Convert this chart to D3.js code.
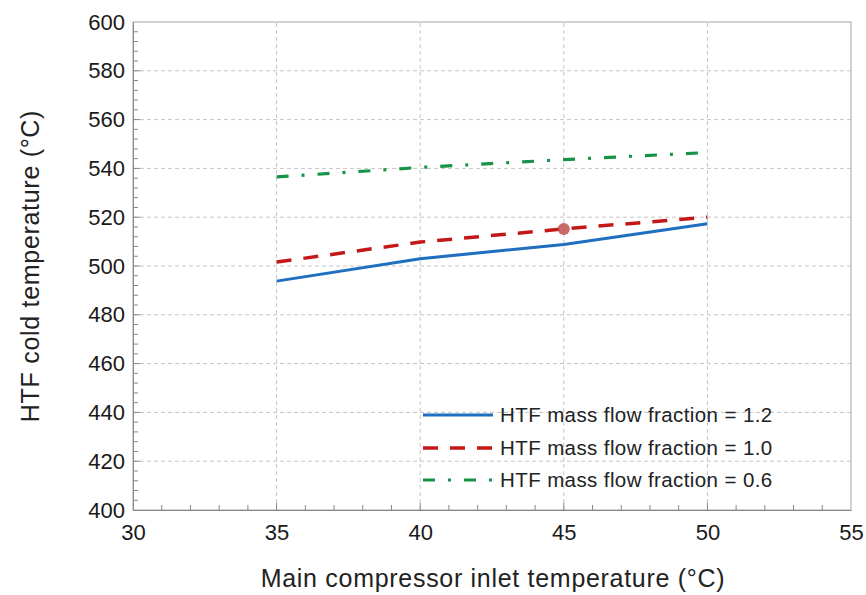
<!DOCTYPE html>
<html><head><meta charset="utf-8">
<script src="https://cdn.jsdelivr.net/npm/d3@7"></script>
<style>body{margin:0;background:#fff}svg{display:block}text{font-family:"Liberation Sans",Arial,sans-serif;fill:#222}</style>
</head><body>
<script>
const xValues = [35, 40, 45, 50];
const flow12 = [493.8, 503.0, 508.8, 517.3];
const flow10 = [501.6, 509.8, 515.2, 520.0];
const flow06 = [536.5, 540.4, 543.6, 546.5];
const seriesNames = ["HTF mass flow fraction = 1.2", "HTF mass flow fraction = 1.0", "HTF mass flow fraction = 0.6"];
const designPoint = [45, 515.2];
const xTicks = [30, 35, 40, 45, 50, 55];
const yTicks = [400, 420, 440, 460, 480, 500, 520, 540, 560, 580, 600];
const xTitle = "Main compressor inlet temperature (°C)";
const yTitle = "HTF cold temperature (°C)";

const W = 866, H = 595;
const m = {l:133, r:W-851, t:22, b:H-510};
const svg = d3.select("body").append("svg").attr("width", W).attr("height", H);
const x = d3.scaleLinear().domain([30,55]).range([m.l, W-m.r]);
const y = d3.scaleLinear().domain([400,600]).range([H-m.b, m.t]);

// grid
const g = svg.append("g");
g.selectAll(".gx").data(xTicks.slice(1,-1)).join("line")
  .attr("x1", d=>x(d)).attr("x2", d=>x(d)).attr("y1", y(400)).attr("y2", y(600))
  .attr("stroke", "#c4c4c4").attr("stroke-width",1).attr("stroke-dasharray","4,3");
g.selectAll(".gy").data(yTicks.slice(1,-1)).join("line")
  .attr("x1", x(30)).attr("x2", x(55)).attr("y1", d=>y(d)).attr("y2", d=>y(d))
  .attr("stroke", "#c4c4c4").attr("stroke-width",1).attr("stroke-dasharray","4,3");

// frame
svg.append("rect").attr("x", x(30)).attr("y", y(600)).attr("width", x(55)-x(30)).attr("height", y(400)-y(600))
  .attr("fill","none").attr("stroke","#b5b5b5").attr("stroke-width",1.2);

// minor ticks
const xMinor = d3.range(31, 55, 1);
svg.selectAll(".mx").data(xMinor).join("line")
  .attr("x1", d=>x(d)).attr("x2", d=>x(d)).attr("y1", y(400)).attr("y2", d=> y(400) - (d%5===0?7:5))
  .attr("stroke","#888").attr("stroke-width",1);
const yMinor = d3.range(404, 600, 4);
svg.selectAll(".my").data(yMinor).join("line")
  .attr("y1", d=>y(d)).attr("y2", d=>y(d)).attr("x1", x(30)).attr("x2", d=> x(30) + (d%20===0?7:5))
  .attr("stroke","#888").attr("stroke-width",1);

// axes
const xAxis = d3.axisBottom(x).tickValues(xTicks).tickSize(0).tickPadding(14);
const gx = svg.append("g").attr("transform", `translate(0,${y(400)})`).call(xAxis);
gx.select(".domain").attr("stroke","#888");
gx.selectAll("text").attr("font-size", 22).style("fill","#1a1a1a");
const yAxis = d3.axisLeft(y).tickValues(yTicks).tickSize(0).tickPadding(8);
const gy = svg.append("g").attr("transform", `translate(${x(30)},0)`).call(yAxis);
gy.select(".domain").attr("stroke","#888");
gy.selectAll("text").attr("font-size", 22).style("fill","#1a1a1a");

// titles
svg.append("text").attr("x", (x(30)+x(55))/2 + 1).attr("y", 587).attr("text-anchor","middle")
  .attr("font-size", 25).attr("letter-spacing", 0.7).text(xTitle);
svg.append("text").attr("transform", `translate(39,${(y(400)+y(600))/2}) rotate(-90)`).attr("text-anchor","middle")
  .attr("font-size", 25).attr("letter-spacing", 0.7).text(yTitle);

// lines
const styles = [
  {data: flow12, color:"#1f6fc0", dash:null, w:3},
  {data: flow10, color:"#c41818", dash:"15,12", w:3.5},
  {data: flow06, color:"#159448", dash:"12,13,3,13", w:3.2}
];
const line = d3.line().x((d,i)=>x(xValues[i])).y(d=>y(d));
styles.forEach(s=>{
  svg.append("path").attr("d", line(s.data)).attr("fill","none")
    .attr("stroke", s.color).attr("stroke-width", s.w).attr("stroke-dasharray", s.dash);
});
svg.append("circle").attr("cx", x(designPoint[0])).attr("cy", y(designPoint[1])).attr("r", 6)
  .attr("fill","#c0504d").attr("fill-opacity",0.85);

// legend
const legY = [415, 448, 480];
styles.forEach((s,i)=>{
  svg.append("line").attr("x1",423).attr("x2",493).attr("y1",legY[i]).attr("y2",legY[i])
    .attr("stroke",s.color).attr("stroke-width",s.w).attr("stroke-dasharray", s.dash);
  svg.append("text").attr("x",500).attr("y",legY[i]).attr("dy","0.35em")
    .attr("font-size",20.5).attr("letter-spacing",0.4).text(seriesNames[i]);
});
</script>
</body></html>
